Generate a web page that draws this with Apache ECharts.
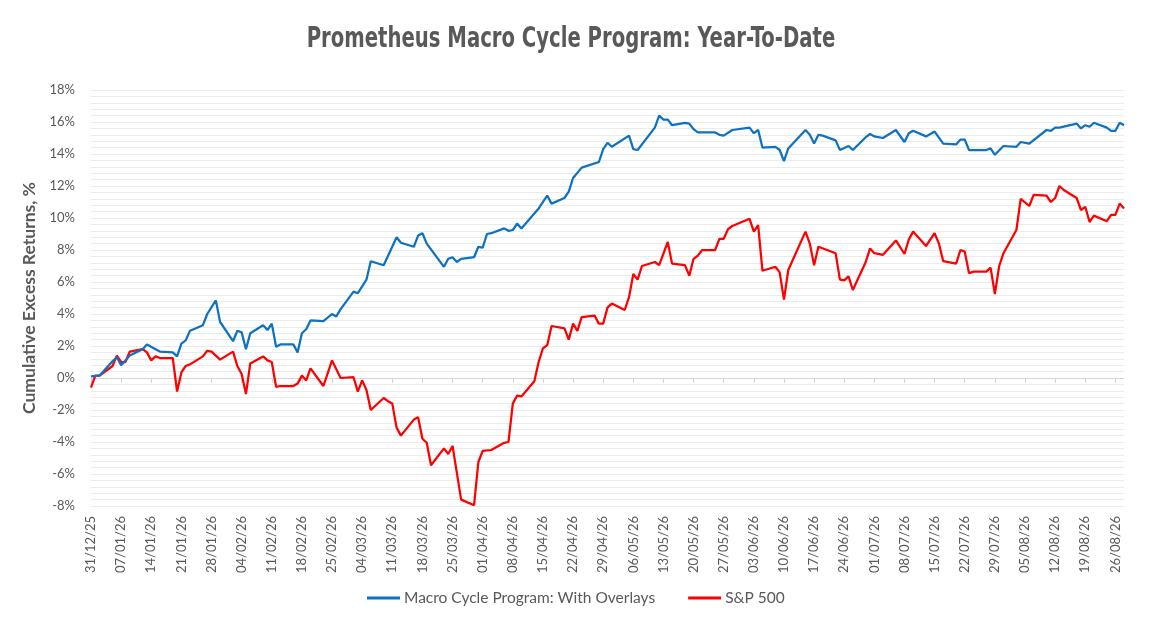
<!DOCTYPE html>
<html>
<head>
<meta charset="utf-8">
<script src="https://cdn.jsdelivr.net/npm/echarts@6/dist/echarts.min.js"></script>
<style>
html,body{margin:0;padding:0;background:#fff;}
#chart{width:1171px;height:642px;}
</style>
</head>
<body>
<div id="chart"></div>
<script>
// ---- Data ----
const macroDates = ['31/12/25','02/01/26','05/01/26','06/01/26','07/01/26','08/01/26','09/01/26','12/01/26','13/01/26','15/01/26','16/01/26','19/01/26','20/01/26','21/01/26','22/01/26','23/01/26','26/01/26','27/01/26','29/01/26','30/01/26',
'02/02/26','03/02/26','04/02/26','05/02/26','06/02/26','09/02/26','10/02/26','11/02/26','12/02/26','13/02/26','16/02/26','17/02/26','18/02/26','19/02/26','20/02/26','23/02/26','25/02/26','26/02/26','27/02/26',
'02/03/26','03/03/26','05/03/26','06/03/26','09/03/26','12/03/26','13/03/26','16/03/26','17/03/26','18/03/26','19/03/26','23/03/26','24/03/26','25/03/26','26/03/26','27/03/26','30/03/26','31/03/26',
'01/04/26','02/04/26','03/04/26','06/04/26','07/04/26','08/04/26','09/04/26','10/04/26','14/04/26','16/04/26','17/04/26','20/04/26','21/04/26','22/04/26','24/04/26','28/04/26','29/04/26','30/04/26',
'01/05/26','05/05/26','06/05/26','07/05/26','11/05/26','12/05/26','13/05/26','14/05/26','15/05/26','18/05/26','19/05/26','20/05/26','21/05/26','25/05/26','26/05/26','27/05/26','29/05/26',
'02/06/26','03/06/26','04/06/26','05/06/26','08/06/26','09/06/26','10/06/26','11/06/26','15/06/26','16/06/26','17/06/26','18/06/26','19/06/26','22/06/26','23/06/26','25/06/26','26/06/26','29/06/26','30/06/26',
'01/07/26','03/07/26','06/07/26','08/07/26','09/07/26','10/07/26','13/07/26','15/07/26','17/07/26','20/07/26','21/07/26','22/07/26','23/07/26','27/07/26','28/07/26','29/07/26','31/07/26',
'03/08/26','04/08/26','06/08/26','10/08/26','11/08/26','12/08/26','13/08/26','17/08/26','18/08/26','19/08/26','20/08/26','21/08/26','24/08/26','25/08/26','26/08/26','27/08/26','28/08/26'];
const macroValues = [0.1,0.15,1.05,1.3,0.8,1.1,1.4,1.8,2.1,1.8,1.65,1.6,1.35,2.15,2.35,2.95,3.3,4.0,4.85,3.5,
2.3,2.95,2.85,1.8,2.8,3.3,3.0,3.4,1.95,2.1,2.1,1.6,2.8,3.05,3.6,3.55,4.0,3.85,4.3,
5.4,5.3,6.15,7.3,7.05,8.8,8.45,8.2,8.9,9.05,8.4,6.95,7.45,7.55,7.25,7.45,7.55,8.2,
8.15,9.0,9.05,9.35,9.2,9.25,9.65,9.35,10.6,11.4,10.9,11.25,11.65,12.5,13.15,13.5,14.3,14.7,
14.45,15.15,14.3,14.25,15.65,16.4,16.15,16.15,15.8,15.95,15.9,15.55,15.35,15.35,15.2,15.15,15.5,
15.65,15.3,15.5,14.4,14.45,14.25,13.55,14.35,15.5,15.2,14.65,15.2,15.15,14.85,14.25,14.5,14.25,15.05,15.25,
15.1,15.0,15.5,14.75,15.3,15.45,15.1,15.4,14.65,14.6,14.9,14.9,14.25,14.25,14.35,13.95,14.5,
14.45,14.75,14.65,15.5,15.45,15.65,15.65,15.9,15.6,15.8,15.7,15.95,15.65,15.45,15.45,15.95,15.8];

const spxDates = ['31/12/25','01/01/26','02/01/26','05/01/26','06/01/26','07/01/26','08/01/26','09/01/26','12/01/26','13/01/26','14/01/26','15/01/26','16/01/26','19/01/26','20/01/26','21/01/26','22/01/26','23/01/26','26/01/26','27/01/26','28/01/26','30/01/26',
'02/02/26','03/02/26','04/02/26','05/02/26','06/02/26','09/02/26','10/02/26','11/02/26','12/02/26','13/02/26','16/02/26','17/02/26','18/02/26','19/02/26','20/02/26','23/02/26','25/02/26','27/02/26',
'02/03/26','03/03/26','04/03/26','05/03/26','06/03/26','09/03/26','10/03/26','11/03/26','12/03/26','13/03/26','16/03/26','17/03/26','18/03/26','19/03/26','20/03/26','23/03/26','24/03/26','25/03/26','27/03/26','30/03/26','31/03/26',
'01/04/26','03/04/26','06/04/26','07/04/26','08/04/26','09/04/26','10/04/26','13/04/26','14/04/26','15/04/26','16/04/26','17/04/26','20/04/26','21/04/26','22/04/26','23/04/26','24/04/26','27/04/26','28/04/26','29/04/26','30/04/26',
'01/05/26','04/05/26','05/05/26','06/05/26','07/05/26','08/05/26','11/05/26','12/05/26','14/05/26','15/05/26','18/05/26','19/05/26','20/05/26','21/05/26','22/05/26','25/05/26','26/05/26','27/05/26','28/05/26','29/05/26',
'02/06/26','03/06/26','04/06/26','05/06/26','08/06/26','09/06/26','10/06/26','11/06/26','15/06/26','16/06/26','17/06/26','18/06/26','22/06/26','23/06/26','24/06/26','25/06/26','26/06/26','29/06/26','30/06/26',
'01/07/26','03/07/26','06/07/26','08/07/26','09/07/26','10/07/26','13/07/26','15/07/26','16/07/26','17/07/26','20/07/26','21/07/26','22/07/26','23/07/26','24/07/26','27/07/26','28/07/26','29/07/26','30/07/26','31/07/26',
'03/08/26','04/08/26','06/08/26','07/08/26','10/08/26','11/08/26','12/08/26','13/08/26','14/08/26','17/08/26','18/08/26','19/08/26','20/08/26','21/08/26','24/08/26','25/08/26','26/08/26','27/08/26','28/08/26'];
const spxValues = [-0.6,0.15,0.15,0.75,1.4,1.0,1.0,1.65,1.8,1.6,1.1,1.35,1.25,1.25,-0.85,0.35,0.75,0.85,1.35,1.7,1.65,1.15,
1.65,0.75,0.25,-1.0,0.9,1.35,1.1,1.0,-0.55,-0.5,-0.5,-0.35,0.15,-0.15,0.6,-0.5,1.1,0.0,
0.05,-0.85,-0.15,-0.75,-2.0,-1.25,-1.45,-1.6,-3.1,-3.6,-2.6,-2.45,-3.8,-4.05,-5.45,-4.4,-4.75,-4.25,-7.6,-7.95,-5.25,
-4.55,-4.5,-4.05,-4.0,-1.6,-1.1,-1.15,-0.2,1.0,1.85,2.05,3.25,3.1,2.4,3.4,2.95,3.8,3.9,3.4,3.4,4.4,
4.65,4.25,5.05,6.5,6.15,7.0,7.25,7.05,8.5,7.15,7.05,6.4,7.45,7.65,8.0,8.0,8.7,8.7,9.3,9.5,
9.95,9.15,9.55,6.7,6.95,6.6,4.9,6.75,9.15,8.4,7.05,8.2,7.8,6.15,6.1,6.35,5.5,7.25,8.1,
7.8,7.7,8.6,7.75,8.65,9.15,8.25,9.05,8.4,7.3,7.15,8.0,7.9,6.55,6.65,6.65,6.9,5.25,7.0,7.8,
9.25,11.2,10.75,11.45,11.4,11.0,11.25,12.0,11.75,11.25,10.5,10.7,9.75,10.15,9.8,10.2,10.2,10.9,10.6];

const seriesNames = ['Macro Cycle Program: With Overlays', 'S&P 500'];
const chartTitle = 'Prometheus Macro Cycle Program: Year-To-Date';
const yTickMin = -8, yTickMax = 18, yTickStep = 2;

// calendar-day categories (date axis, like the original)
const categories = [];
(function(){
  const start = Date.UTC(2025, 11, 31), end = Date.UTC(2026, 7, 28);
  for (let t = start; t <= end; t += 86400000) {
    const d = new Date(t);
    const dd = String(d.getUTCDate()).padStart(2,'0');
    const mm = String(d.getUTCMonth()+1).padStart(2,'0');
    const yy = String(d.getUTCFullYear()).slice(2);
    categories.push(dd + '/' + mm + '/' + yy);
  }
})();
function align(dates, values) {
  const m = {};
  dates.forEach((d, i) => { m[d] = values[i]; });
  return categories.map(c => (c in m ? m[c] : null));
}

const FONT = 'Lato, "Noto Sans", sans-serif';
const GREY = '#595959';
const chart = echarts.init(document.getElementById('chart'), null, {renderer: 'canvas'});
chart.setOption({
  animation: false,
  backgroundColor: '#ffffff',
  graphic: [{
    type: 'text', x: 571, y: 40, scaleX: 0.78, scaleY: 1, silent: true,
    style: {
      text: chartTitle, align: 'center', verticalAlign: 'middle',
      font: 'bold 28px "DejaVu Sans Condensed", "DejaVu Sans", sans-serif',
      fill: GREY
    }
  }],
  legend: {
    left: 367, top: 590, padding: 0,
    itemWidth: 33, itemHeight: 3, itemGap: 33,
    icon: 'rect',
    textStyle: {fontFamily: FONT, fontSize: 15.5, color: GREY, padding: [0, 0, 0, -1]},
    data: seriesNames
  },
  grid: {left: 91, right: 47, top: 90, bottom: 136, containLabel: false, outerBoundsMode: 'none'},
  xAxis: [{
    type: 'category', data: categories, boundaryGap: false, position: 'bottom',
    axisLine: {show: false, onZero: false},
    axisTick: {show: false},
    splitLine: {show: false},
    axisLabel: {interval: 6, rotate: 90, margin: 10, fontFamily: FONT, fontSize: 13, color: GREY}
  }, {
    type: 'category', data: categories, boundaryGap: false, position: 'bottom',
    axisLine: {show: true, onZero: true, lineStyle: {color: '#d4d4d4', width: 1}},
    axisTick: {show: true, interval: 6, length: 5, lineStyle: {color: '#d4d4d4'}},
    axisLabel: {show: false},
    splitLine: {show: false}
  }],
  yAxis: {
    type: 'value', min: yTickMin, max: yTickMax, interval: yTickStep,
    name: 'Cumulative Excess Returns, %', nameLocation: 'middle', nameGap: 48, nameRotate: 90,
    nameTextStyle: {fontFamily: FONT, fontWeight: 'bold', fontSize: 17.5, color: GREY},
    axisLine: {show: false}, axisTick: {show: false},
    axisLabel: {formatter: v => v + '%', margin: 16, fontFamily: FONT, fontSize: 13, color: GREY},
    splitLine: {show: true, lineStyle: {color: '#ebebeb', width: 1}},
    minorTick: {show: false, splitNumber: 5},
    minorSplitLine: {show: true, lineStyle: {color: '#ebebeb', width: 1}}
  },
  series: [{
    name: seriesNames[0], type: 'line', xAxisIndex: 0, data: align(macroDates, macroValues),
    connectNulls: true, showSymbol: false, symbol: 'none',
    lineStyle: {color: '#0E72C1', width: 2.25}, itemStyle: {color: '#0E72C1'}, z: 3
  }, {
    name: seriesNames[1], type: 'line', xAxisIndex: 0, data: align(spxDates, spxValues),
    connectNulls: true, showSymbol: false, symbol: 'none',
    lineStyle: {color: '#FF0000', width: 2.25}, itemStyle: {color: '#FF0000'}, z: 2
  }]
});
</script>
</body>
</html>
